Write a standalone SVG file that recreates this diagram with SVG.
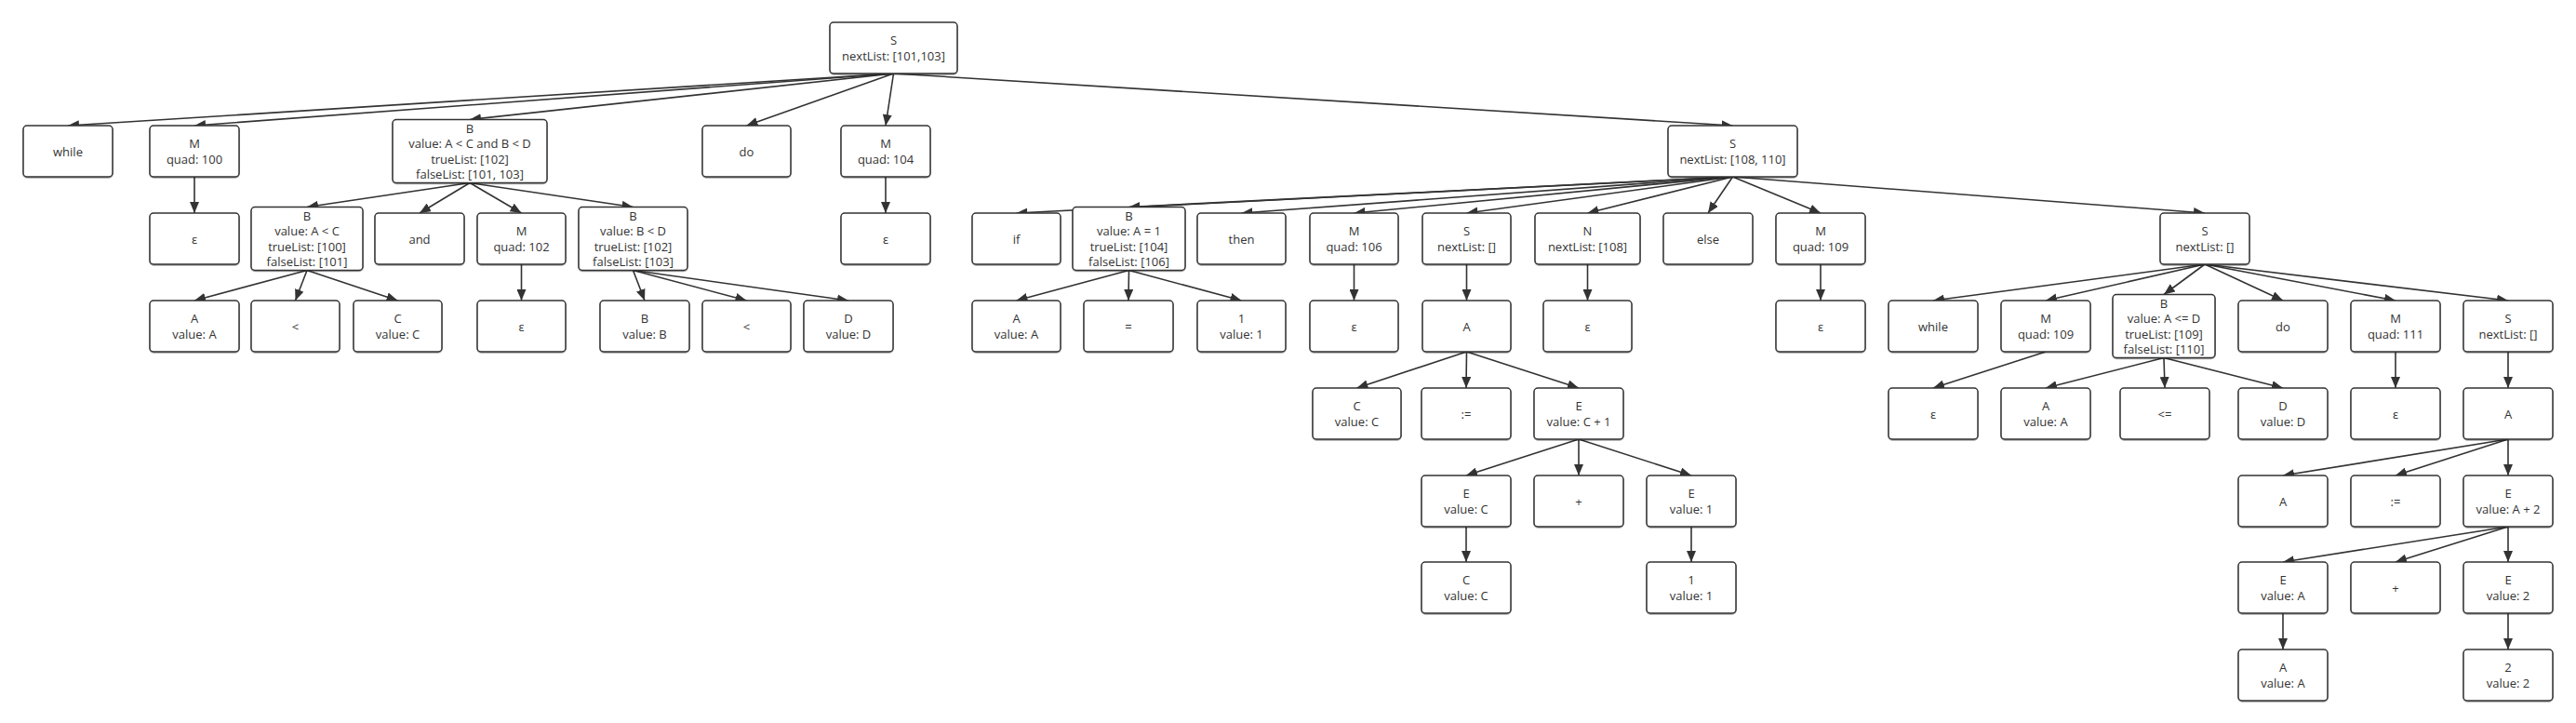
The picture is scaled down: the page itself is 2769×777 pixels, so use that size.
<svg xmlns="http://www.w3.org/2000/svg" width="2769" height="777" viewBox="0 0 2769 777">
<style>
.box{fill:#fff;stroke:#333;stroke-width:1.5;filter:url(#sh)}
.t{font-family:"Open Sans","Noto Sans","Liberation Sans",sans-serif;font-size:13px;fill:#333;text-anchor:middle;dominant-baseline:central}
.e{stroke:#333;stroke-width:1.6;fill:none;marker-end:url(#arr)}
</style>
<defs>
<filter id="sh" x="-5%" y="-5%" width="110%" height="120%"><feDropShadow dx="0" dy="1" stdDeviation="0.6" flood-color="#000" flood-opacity="0.35"/></filter>
<marker id="arr" markerWidth="12" markerHeight="10" refX="12" refY="5" orient="auto" markerUnits="userSpaceOnUse"><path d="M0,0 L12,5 L0,10 z" fill="#333"/></marker>
</defs>
<rect width="2769" height="777" fill="#fff"/>
<g id="connectors">
<line class="e" x1="960.5" y1="79" x2="73" y2="135"/>
<line class="e" x1="960.5" y1="79" x2="209" y2="135"/>
<line class="e" x1="960.5" y1="79" x2="505" y2="128.5"/>
<line class="e" x1="960.5" y1="79" x2="802.5" y2="135"/>
<line class="e" x1="960.5" y1="79" x2="952" y2="135"/>
<line class="e" x1="960.5" y1="79" x2="1862.5" y2="135"/>
<line class="e" x1="209" y1="190" x2="209" y2="229"/>
<line class="e" x1="505" y1="196.5" x2="330" y2="222.5"/>
<line class="e" x1="505" y1="196.5" x2="451" y2="229"/>
<line class="e" x1="505" y1="196.5" x2="560.5" y2="229"/>
<line class="e" x1="505" y1="196.5" x2="680.5" y2="222.5"/>
<line class="e" x1="952" y1="190" x2="952" y2="229"/>
<line class="e" x1="330" y1="290.5" x2="209" y2="323"/>
<line class="e" x1="330" y1="290.5" x2="317.5" y2="323"/>
<line class="e" x1="330" y1="290.5" x2="427.5" y2="323"/>
<line class="e" x1="560.5" y1="284" x2="560.5" y2="323"/>
<line class="e" x1="680.5" y1="290.5" x2="693" y2="323"/>
<line class="e" x1="680.5" y1="290.5" x2="802.5" y2="323"/>
<line class="e" x1="680.5" y1="290.5" x2="912" y2="323"/>
<line class="e" x1="1862.5" y1="190" x2="1092.5" y2="229"/>
<line class="e" x1="1862.5" y1="190" x2="1213.5" y2="222.5"/>
<line class="e" x1="1862.5" y1="190" x2="1334.5" y2="229"/>
<line class="e" x1="1862.5" y1="190" x2="1455.5" y2="229"/>
<line class="e" x1="1862.5" y1="190" x2="1576.5" y2="229"/>
<line class="e" x1="1862.5" y1="190" x2="1706.5" y2="229"/>
<line class="e" x1="1862.5" y1="190" x2="1836" y2="229"/>
<line class="e" x1="1862.5" y1="190" x2="1957" y2="229"/>
<line class="e" x1="1862.5" y1="190" x2="2370" y2="229"/>
<line class="e" x1="1213.5" y1="290.5" x2="1092.5" y2="323"/>
<line class="e" x1="1213.5" y1="290.5" x2="1213" y2="323"/>
<line class="e" x1="1213.5" y1="290.5" x2="1334.5" y2="323"/>
<line class="e" x1="1455.5" y1="284" x2="1455.5" y2="323"/>
<line class="e" x1="1576.5" y1="284" x2="1576.5" y2="323"/>
<line class="e" x1="1706.5" y1="284" x2="1706.5" y2="323"/>
<line class="e" x1="1957" y1="284" x2="1957" y2="323"/>
<line class="e" x1="2370" y1="284" x2="2078" y2="323"/>
<line class="e" x1="2370" y1="284" x2="2199" y2="323"/>
<line class="e" x1="2370" y1="284" x2="2326" y2="316.5"/>
<line class="e" x1="2370" y1="284" x2="2454" y2="323"/>
<line class="e" x1="2370" y1="284" x2="2575" y2="323"/>
<line class="e" x1="2370" y1="284" x2="2696" y2="323"/>
<line class="e" x1="1576.5" y1="378" x2="1458.5" y2="417"/>
<line class="e" x1="1576.5" y1="378" x2="1576" y2="417"/>
<line class="e" x1="1576.5" y1="378" x2="1697" y2="417"/>
<line class="e" x1="2199" y1="378" x2="2078" y2="417"/>
<line class="e" x1="2326" y1="384.5" x2="2199" y2="417"/>
<line class="e" x1="2326" y1="384.5" x2="2327" y2="417"/>
<line class="e" x1="2326" y1="384.5" x2="2454" y2="417"/>
<line class="e" x1="2575" y1="378" x2="2575" y2="417"/>
<line class="e" x1="2696" y1="378" x2="2696" y2="417"/>
<line class="e" x1="1697" y1="472" x2="1576" y2="511"/>
<line class="e" x1="1697" y1="472" x2="1697" y2="511"/>
<line class="e" x1="1697" y1="472" x2="1818" y2="511"/>
<line class="e" x1="2696" y1="472" x2="2454" y2="511"/>
<line class="e" x1="2696" y1="472" x2="2575" y2="511"/>
<line class="e" x1="2696" y1="472" x2="2696" y2="511"/>
<line class="e" x1="1576" y1="566" x2="1576" y2="604"/>
<line class="e" x1="1818" y1="566" x2="1818" y2="604"/>
<line class="e" x1="2696" y1="566" x2="2454" y2="604"/>
<line class="e" x1="2696" y1="566" x2="2575" y2="604"/>
<line class="e" x1="2696" y1="566" x2="2696" y2="604"/>
<line class="e" x1="2454" y1="659" x2="2454" y2="698"/>
<line class="e" x1="2696" y1="659" x2="2696" y2="698"/>
</g>
<g id="n0"><rect class="box" x="892" y="24" width="137" height="55" rx="4"/><text class="t" x="960.5" y="43.25">S</text><text class="t" x="960.5" y="59.75">nextList: [101,103]</text></g>
<g id="n1"><rect class="box" x="25" y="135" width="96" height="55" rx="4"/><text class="t" x="73" y="162.5">while</text></g>
<g id="n2"><rect class="box" x="161" y="135" width="96" height="55" rx="4"/><text class="t" x="209" y="154.25">M</text><text class="t" x="209" y="170.75">quad: 100</text></g>
<g id="n3"><rect class="box" x="422" y="128.5" width="166" height="68" rx="4"/><text class="t" x="505" y="137.75">B</text><text class="t" x="505" y="154.25">value: A &lt; C and B &lt; D</text><text class="t" x="505" y="170.75">trueList: [102]</text><text class="t" x="505" y="187.25">falseList: [101, 103]</text></g>
<g id="n4"><rect class="box" x="755" y="135" width="95" height="55" rx="4"/><text class="t" x="802.5" y="162.5">do</text></g>
<g id="n5"><rect class="box" x="904" y="135" width="96" height="55" rx="4"/><text class="t" x="952" y="154.25">M</text><text class="t" x="952" y="170.75">quad: 104</text></g>
<g id="n6"><rect class="box" x="1793" y="135" width="139" height="55" rx="4"/><text class="t" x="1862.5" y="154.25">S</text><text class="t" x="1862.5" y="170.75">nextList: [108, 110]</text></g>
<g id="n7"><rect class="box" x="161" y="229" width="96" height="55" rx="4"/><text class="t" x="209" y="256.5">ε</text></g>
<g id="n8"><rect class="box" x="270" y="222.5" width="120" height="68" rx="4"/><text class="t" x="330" y="231.75">B</text><text class="t" x="330" y="248.25">value: A &lt; C</text><text class="t" x="330" y="264.75">trueList: [100]</text><text class="t" x="330" y="281.25">falseList: [101]</text></g>
<g id="n9"><rect class="box" x="403" y="229" width="96" height="55" rx="4"/><text class="t" x="451" y="256.5">and</text></g>
<g id="n10"><rect class="box" x="513" y="229" width="95" height="55" rx="4"/><text class="t" x="560.5" y="248.25">M</text><text class="t" x="560.5" y="264.75">quad: 102</text></g>
<g id="n11"><rect class="box" x="622" y="222.5" width="117" height="68" rx="4"/><text class="t" x="680.5" y="231.75">B</text><text class="t" x="680.5" y="248.25">value: B &lt; D</text><text class="t" x="680.5" y="264.75">trueList: [102]</text><text class="t" x="680.5" y="281.25">falseList: [103]</text></g>
<g id="n12"><rect class="box" x="904" y="229" width="96" height="55" rx="4"/><text class="t" x="952" y="256.5">ε</text></g>
<g id="n13"><rect class="box" x="1045" y="229" width="95" height="55" rx="4"/><text class="t" x="1092.5" y="256.5">if</text></g>
<g id="n14"><rect class="box" x="1153" y="222.5" width="121" height="68" rx="4"/><text class="t" x="1213.5" y="231.75">B</text><text class="t" x="1213.5" y="248.25">value: A = 1</text><text class="t" x="1213.5" y="264.75">trueList: [104]</text><text class="t" x="1213.5" y="281.25">falseList: [106]</text></g>
<g id="n15"><rect class="box" x="1287" y="229" width="95" height="55" rx="4"/><text class="t" x="1334.5" y="256.5">then</text></g>
<g id="n16"><rect class="box" x="1408" y="229" width="95" height="55" rx="4"/><text class="t" x="1455.5" y="248.25">M</text><text class="t" x="1455.5" y="264.75">quad: 106</text></g>
<g id="n17"><rect class="box" x="1529" y="229" width="95" height="55" rx="4"/><text class="t" x="1576.5" y="248.25">S</text><text class="t" x="1576.5" y="264.75">nextList: []</text></g>
<g id="n18"><rect class="box" x="1650" y="229" width="113" height="55" rx="4"/><text class="t" x="1706.5" y="248.25">N</text><text class="t" x="1706.5" y="264.75">nextList: [108]</text></g>
<g id="n19"><rect class="box" x="1788" y="229" width="96" height="55" rx="4"/><text class="t" x="1836" y="256.5">else</text></g>
<g id="n20"><rect class="box" x="1909" y="229" width="96" height="55" rx="4"/><text class="t" x="1957" y="248.25">M</text><text class="t" x="1957" y="264.75">quad: 109</text></g>
<g id="n21"><rect class="box" x="2322" y="229" width="96" height="55" rx="4"/><text class="t" x="2370" y="248.25">S</text><text class="t" x="2370" y="264.75">nextList: []</text></g>
<g id="n22"><rect class="box" x="161" y="323" width="96" height="55" rx="4"/><text class="t" x="209" y="342.25">A</text><text class="t" x="209" y="358.75">value: A</text></g>
<g id="n23"><rect class="box" x="270" y="323" width="95" height="55" rx="4"/><text class="t" x="317.5" y="350.5">&lt;</text></g>
<g id="n24"><rect class="box" x="380" y="323" width="95" height="55" rx="4"/><text class="t" x="427.5" y="342.25">C</text><text class="t" x="427.5" y="358.75">value: C</text></g>
<g id="n25"><rect class="box" x="513" y="323" width="95" height="55" rx="4"/><text class="t" x="560.5" y="350.5">ε</text></g>
<g id="n26"><rect class="box" x="645" y="323" width="96" height="55" rx="4"/><text class="t" x="693" y="342.25">B</text><text class="t" x="693" y="358.75">value: B</text></g>
<g id="n27"><rect class="box" x="755" y="323" width="95" height="55" rx="4"/><text class="t" x="802.5" y="350.5">&lt;</text></g>
<g id="n28"><rect class="box" x="864" y="323" width="96" height="55" rx="4"/><text class="t" x="912" y="342.25">D</text><text class="t" x="912" y="358.75">value: D</text></g>
<g id="n29"><rect class="box" x="1045" y="323" width="95" height="55" rx="4"/><text class="t" x="1092.5" y="342.25">A</text><text class="t" x="1092.5" y="358.75">value: A</text></g>
<g id="n30"><rect class="box" x="1165" y="323" width="96" height="55" rx="4"/><text class="t" x="1213" y="350.5">=</text></g>
<g id="n31"><rect class="box" x="1287" y="323" width="95" height="55" rx="4"/><text class="t" x="1334.5" y="342.25">1</text><text class="t" x="1334.5" y="358.75">value: 1</text></g>
<g id="n32"><rect class="box" x="1408" y="323" width="95" height="55" rx="4"/><text class="t" x="1455.5" y="350.5">ε</text></g>
<g id="n33"><rect class="box" x="1529" y="323" width="95" height="55" rx="4"/><text class="t" x="1576.5" y="350.5">A</text></g>
<g id="n34"><rect class="box" x="1659" y="323" width="95" height="55" rx="4"/><text class="t" x="1706.5" y="350.5">ε</text></g>
<g id="n35"><rect class="box" x="1909" y="323" width="96" height="55" rx="4"/><text class="t" x="1957" y="350.5">ε</text></g>
<g id="n36"><rect class="box" x="2030" y="323" width="96" height="55" rx="4"/><text class="t" x="2078" y="350.5">while</text></g>
<g id="n37"><rect class="box" x="2151" y="323" width="96" height="55" rx="4"/><text class="t" x="2199" y="342.25">M</text><text class="t" x="2199" y="358.75">quad: 109</text></g>
<g id="n38"><rect class="box" x="2271" y="316.5" width="110" height="68" rx="4"/><text class="t" x="2326" y="325.75">B</text><text class="t" x="2326" y="342.25">value: A &lt;= D</text><text class="t" x="2326" y="358.75">trueList: [109]</text><text class="t" x="2326" y="375.25">falseList: [110]</text></g>
<g id="n39"><rect class="box" x="2406" y="323" width="96" height="55" rx="4"/><text class="t" x="2454" y="350.5">do</text></g>
<g id="n40"><rect class="box" x="2527" y="323" width="96" height="55" rx="4"/><text class="t" x="2575" y="342.25">M</text><text class="t" x="2575" y="358.75">quad: 111</text></g>
<g id="n41"><rect class="box" x="2648" y="323" width="96" height="55" rx="4"/><text class="t" x="2696" y="342.25">S</text><text class="t" x="2696" y="358.75">nextList: []</text></g>
<g id="n42"><rect class="box" x="1411" y="417" width="95" height="55" rx="4"/><text class="t" x="1458.5" y="436.25">C</text><text class="t" x="1458.5" y="452.75">value: C</text></g>
<g id="n43"><rect class="box" x="1528" y="417" width="96" height="55" rx="4"/><text class="t" x="1576" y="444.5">:=</text></g>
<g id="n44"><rect class="box" x="1649" y="417" width="96" height="55" rx="4"/><text class="t" x="1697" y="436.25">E</text><text class="t" x="1697" y="452.75">value: C + 1</text></g>
<g id="n45"><rect class="box" x="2030" y="417" width="96" height="55" rx="4"/><text class="t" x="2078" y="444.5">ε</text></g>
<g id="n46"><rect class="box" x="2151" y="417" width="96" height="55" rx="4"/><text class="t" x="2199" y="436.25">A</text><text class="t" x="2199" y="452.75">value: A</text></g>
<g id="n47"><rect class="box" x="2279" y="417" width="96" height="55" rx="4"/><text class="t" x="2327" y="444.5">&lt;=</text></g>
<g id="n48"><rect class="box" x="2406" y="417" width="96" height="55" rx="4"/><text class="t" x="2454" y="436.25">D</text><text class="t" x="2454" y="452.75">value: D</text></g>
<g id="n49"><rect class="box" x="2527" y="417" width="96" height="55" rx="4"/><text class="t" x="2575" y="444.5">ε</text></g>
<g id="n50"><rect class="box" x="2648" y="417" width="96" height="55" rx="4"/><text class="t" x="2696" y="444.5">A</text></g>
<g id="n51"><rect class="box" x="1528" y="511" width="96" height="55" rx="4"/><text class="t" x="1576" y="530.25">E</text><text class="t" x="1576" y="546.75">value: C</text></g>
<g id="n52"><rect class="box" x="1649" y="511" width="96" height="55" rx="4"/><text class="t" x="1697" y="538.5">+</text></g>
<g id="n53"><rect class="box" x="1770" y="511" width="96" height="55" rx="4"/><text class="t" x="1818" y="530.25">E</text><text class="t" x="1818" y="546.75">value: 1</text></g>
<g id="n54"><rect class="box" x="2406" y="511" width="96" height="55" rx="4"/><text class="t" x="2454" y="538.5">A</text></g>
<g id="n55"><rect class="box" x="2527" y="511" width="96" height="55" rx="4"/><text class="t" x="2575" y="538.5">:=</text></g>
<g id="n56"><rect class="box" x="2648" y="511" width="96" height="55" rx="4"/><text class="t" x="2696" y="530.25">E</text><text class="t" x="2696" y="546.75">value: A + 2</text></g>
<g id="n57"><rect class="box" x="1528" y="604" width="96" height="55" rx="4"/><text class="t" x="1576" y="623.25">C</text><text class="t" x="1576" y="639.75">value: C</text></g>
<g id="n58"><rect class="box" x="1770" y="604" width="96" height="55" rx="4"/><text class="t" x="1818" y="623.25">1</text><text class="t" x="1818" y="639.75">value: 1</text></g>
<g id="n59"><rect class="box" x="2406" y="604" width="96" height="55" rx="4"/><text class="t" x="2454" y="623.25">E</text><text class="t" x="2454" y="639.75">value: A</text></g>
<g id="n60"><rect class="box" x="2527" y="604" width="96" height="55" rx="4"/><text class="t" x="2575" y="631.5">+</text></g>
<g id="n61"><rect class="box" x="2648" y="604" width="96" height="55" rx="4"/><text class="t" x="2696" y="623.25">E</text><text class="t" x="2696" y="639.75">value: 2</text></g>
<g id="n62"><rect class="box" x="2406" y="698" width="96" height="55" rx="4"/><text class="t" x="2454" y="717.25">A</text><text class="t" x="2454" y="733.75">value: A</text></g>
<g id="n63"><rect class="box" x="2648" y="698" width="96" height="55" rx="4"/><text class="t" x="2696" y="717.25">2</text><text class="t" x="2696" y="733.75">value: 2</text></g>
</svg>
